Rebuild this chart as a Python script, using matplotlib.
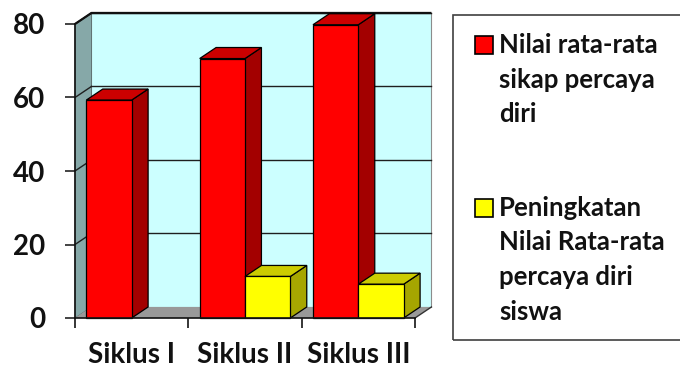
import matplotlib
matplotlib.use("Agg")
import matplotlib.pyplot as plt
from matplotlib.patches import Polygon, Rectangle

plt.rcParams["font.family"] = ["Lato", "DejaVu Sans"]
plt.rcParams["font.weight"] = "bold"

# data
categories = ["Siklus I", "Siklus II", "Siklus III"]
mean_scores = [59.3, 70.6, 79.8]
increase = [0.0, 11.3, 9.2]
series_labels = [
    "Nilai rata-rata\nsikap percaya\ndiri",
    "Peningkatan\nNilai Rata-rata\npercaya diri\nsiswa",
]
y_ticks = [0, 20, 40, 60, 80]

# colours: front / top / side faces
RED = ("#ff0000", "#cc0000", "#a30000")
YELLOW = ("#ffff00", "#cccc00", "#a6a600")
WALL = "#ccffff"
SIDE_WALL = "#86a8a8"
FLOOR = "#999999"
GRID = "#1f1f1f"

DX, DY = 0.145, 3.0      # fake 3d depth in data units
BAR_W, GAP = 0.4, 0.1

fig = plt.figure(figsize=(6.8, 3.67), dpi=100)
fig.patch.set_facecolor("white")
ax = fig.add_axes([75 / 680, 49 / 367, 340 / 680, 294 / 367])
ax.set_xlim(0, len(categories))
ax.set_ylim(0, y_ticks[-1])
ax.patch.set_visible(False)

n = len(categories)
top = y_ticks[-1]


def poly(pts, fc, ec="none", lw=0.0, z=1):
    ax.add_patch(Polygon(pts, closed=True, facecolor=fc, edgecolor=ec,
                         linewidth=lw, zorder=z, clip_on=False,
                         joinstyle="miter"))


# walls and floor
poly([(DX, DY), (n + DX, DY), (n + DX, top + DY), (DX, top + DY)], WALL, "#8c8c8c", 0.8, 0.5)
poly([(0, 0), (DX, DY), (DX, top + DY), (0, top)], SIDE_WALL, "#5a6e6e", 0.6, 0.6)
poly([(0, 0), (n, 0), (n + DX, DY), (DX, DY)], FLOOR, "none", 0, 0.6)

for v in y_ticks[1:]:
    ax.plot([DX, n + DX], [v + DY, v + DY], color=GRID, lw=1.0, zorder=0.8, clip_on=False)
    ax.plot([0, DX], [v, v + DY], color=GRID, lw=1.0, zorder=0.8, clip_on=False)
ax.plot([0, DX, n + DX], [top, top + DY, top + DY], color="#111111", lw=1.6, zorder=0.9,
        clip_on=False, solid_capstyle="butt")
ax.plot([n, n + DX], [0, DY], color="#333333", lw=1.0, zorder=0.9, clip_on=False)


def bar3d(x0, h, colors, z):
    if h <= 0:
        return
    front, topc, side = colors
    x1 = x0 + BAR_W
    poly([(x1, 0), (x1 + DX, DY), (x1 + DX, h + DY), (x1, h)], side, "black", 0.9, z)
    poly([(x0, h), (x1, h), (x1 + DX, h + DY), (x0 + DX, h + DY)], topc, "black", 0.9, z)
    poly([(x0, 0), (x1, 0), (x1, h), (x0, h)], front, "black", 0.9, z + 0.1)


for i in range(n):
    bar3d(i + GAP, mean_scores[i], RED, 2 + i)
    bar3d(i + GAP + BAR_W, increase[i], YELLOW, 2.5 + i)

# axes styling
for s in ("top", "right"):
    ax.spines[s].set_visible(False)
for s in ("left", "bottom"):
    ax.spines[s].set_color("#111111")
    ax.spines[s].set_linewidth(1.2)
    ax.spines[s].set_zorder(10)

ax.set_yticks(y_ticks)
ax.tick_params(axis="y", direction="out", length=7.5, width=1.1, pad=14,
               labelsize=20, colors="#111111")
ax.set_xticks([i + 0.5 for i in range(n)])
ax.set_xticklabels(categories)
ax.set_xticks(range(n + 1), minor=True)
ax.tick_params(axis="x", which="major", length=0, pad=17, labelsize=20, colors="#111111")
ax.tick_params(axis="x", which="minor", direction="out", length=7.5, width=1.1)

# legend box, drawn by hand to match the wide framed box of the original
fig.patches.append(Rectangle((453 / 680, 27 / 367), 240 / 680, 325 / 367,
                             transform=fig.transFigure, fill=False,
                             edgecolor="#404040", linewidth=1.2))
legend_colors = [RED[0], YELLOW[0]]
legend_first_baseline = [53, 216]
LINE_STEP = 34.5
for label, color, base in zip(series_labels, legend_colors, legend_first_baseline):
    fig.patches.append(Rectangle((475 / 680, 1 - (base + 1) / 367), 18 / 680, 18 / 367,
                                 transform=fig.transFigure, facecolor=color,
                                 edgecolor="black", linewidth=1.2))
    for k, line in enumerate(label.split("\n")):
        fig.text(499 / 680, 1 - (base + k * LINE_STEP) / 367, line, ha="left",
                 va="baseline", fontsize=18.5, color="#111111")

fig.savefig("out.png", dpi=100, facecolor="white")
